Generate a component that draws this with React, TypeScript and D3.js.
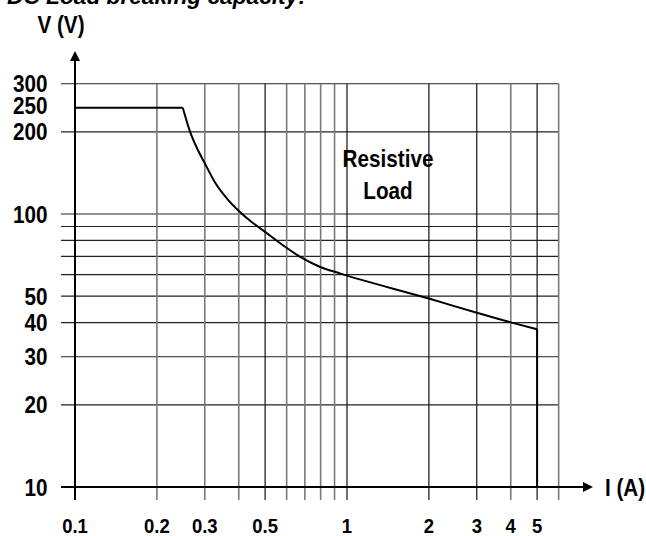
import * as d3 from "d3";

// reading of the DC load breaking capacity curve (resistive load)
const curveI = [0.1, 0.249, 0.265, 0.283, 0.3, 0.326, 0.366, 0.403, 0.445, 0.5, 0.568, 0.671, 0.793, 0.942, 2, 3, 4, 5];
const curveV = [245, 245, 200, 171.6, 153.4, 131.3, 112.5, 102, 93.7, 86, 78.1, 69.8, 64.1, 60.6, 49, 43.5, 40.1, 37.8];
const cutOffI = 5;
const cutOffV = [37.8, 10];

const xTicks = [0.1, 0.2, 0.3, 0.5, 1, 2, 3, 4, 5];
const yTicks = [10, 20, 30, 40, 50, 100, 200, 250, 300];
const xGrid = [0.2, 0.3, 0.4, 0.5, 0.6, 0.7, 0.8, 0.9, 1, 2, 3, 4, 5, 6];
const yGrid = [20, 30, 40, 50, 60, 70, 80, 90, 100, 200, 300];
const darkXGrid = [0.5, 1, 2, 3, 5];

const font = "'Liberation Sans', Arial, sans-serif";

// the original uses a narrow bold face, squeeze the regular one
function Narrow({ x, y, size, anchor = "start", children }: any) {
  return (
    <text
      transform={`translate(${x},${y}) scale(0.88,1)`}
      textAnchor={anchor}
      fontFamily={font}
      fontWeight="bold"
      fontSize={size}
    >
      {children}
    </text>
  );
}

export default function App() {
  const width = 646,
    height = 536;

  const x = d3.scaleLog().domain([0.1, 6]).range([75, 75 + 272 * Math.log10(60)]);
  const y = d3.scaleLog().domain([10, 300]).range([487, 487 - 273 * Math.log10(30)]);

  const [x0, x1] = x.range();
  const [y0, y1] = y.range();

  const pts: [number, number][] = curveI.map((d, i) => [x(d), y(curveV[i])]);
  const straight = d3.line();
  const smooth = d3.line().curve(d3.curveMonotoneX);

  const flatPath = straight(pts.slice(0, 2));
  const bendPath = smooth(pts.slice(1));
  const dropPath = straight(cutOffV.map((v) => [x(cutOffI), y(v)] as [number, number]));

  return (
    <svg
      width={width}
      height={height}
      style={{ position: "absolute", left: 0, top: 0, background: "#fff" }}
    >
      <text x={7} y={4} fontFamily={font} fontWeight="bold" fontStyle="italic" fontSize={22.7}>
        DC Load breaking capacity:
      </text>
      <Narrow x={61} y={33} size={23.5} anchor="middle">
        V (V)
      </Narrow>

      {/* grid */}
      {yGrid.map((v) => (
        <line key={"h" + v} x1={61} x2={x1} y1={y(v)} y2={y(v)} stroke="#222" strokeWidth={1.2} />
      ))}
      {xGrid.map((c) => (
        <line
          key={"v" + c}
          x1={x(c)}
          x2={x(c)}
          y1={y1}
          y2={500}
          stroke={darkXGrid.includes(c) ? "#111" : "#7a7a7a"}
          strokeWidth={darkXGrid.includes(c) ? 1.2 : 1.6}
        />
      ))}

      {/* axes */}
      <line x1={61} x2={586} y1={y0} y2={y0} stroke="#000" strokeWidth={2} />
      <path d={`M593,${y0} L583,${y0 - 5} L583,${y0 + 5} Z`} fill="#000" />
      <line x1={x0} x2={x0} y1={500} y2={60} stroke="#000" strokeWidth={2} />
      <path d={`M${x0},51 L${x0 - 5},61 L${x0 + 5},61 Z`} fill="#000" />

      {/* tick labels */}
      {yTicks.map((v) => (
        <Narrow key={"yl" + v} x={47.5} y={y(v) + 8.5} size={23.5} anchor="end">
          {v}
        </Narrow>
      ))}
      {xTicks.map((c) => (
        <Narrow key={"xl" + c} x={x(c)} y={533} size={21} anchor="middle">
          {c}
        </Narrow>
      ))}
      <Narrow x={605} y={496} size={23.5}>
        I (A)
      </Narrow>

      {/* curve */}
      <path d={flatPath || ""} fill="none" stroke="#000" strokeWidth={2} />
      <path d={bendPath || ""} fill="none" stroke="#000" strokeWidth={2} />
      <path d={dropPath || ""} fill="none" stroke="#000" strokeWidth={2} />

      <Narrow x={388} y={167} size={23.5} anchor="middle">
        Resistive
      </Narrow>
      <Narrow x={388} y={199} size={23.5} anchor="middle">
        Load
      </Narrow>
    </svg>
  );
}
